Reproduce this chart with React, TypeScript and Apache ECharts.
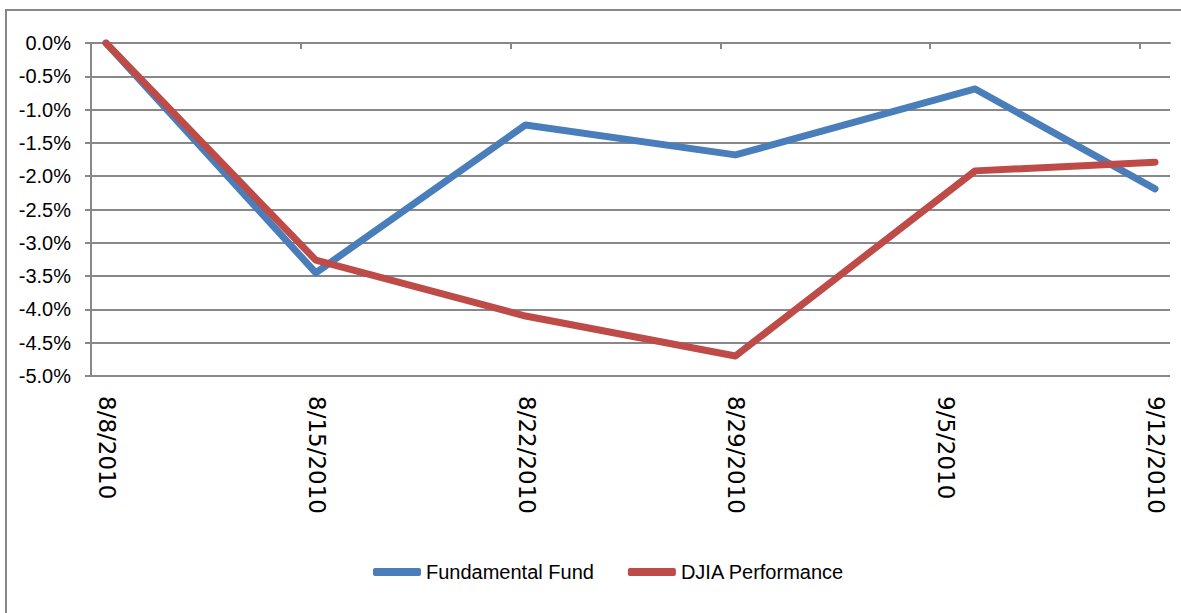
import React, { useEffect, useRef } from "react";
import * as echarts from "echarts";

const startDate = "2010-08-08";
const endDate = "2010-09-13";
const tickDates = ["2010-08-08", "2010-08-15", "2010-08-22", "2010-08-29", "2010-09-05", "2010-09-12"];
const pointDates = ["2010-08-08", "2010-08-15", "2010-08-22", "2010-08-29", "2010-09-06", "2010-09-12"];
const fundValues = [0, -3.45, -1.23, -1.68, -0.69, -2.19];
const djiaValues = [0, -3.26, -4.1, -4.7, -1.92, -1.79];
const seriesNames = ["Fundamental Fund", "DJIA Performance"];
const yMin = -5;
const yMax = 0;
const yInterval = 0.5;

const DAY = 86400000;
const toDay = (s: string) => (Date.parse(s) - Date.parse(startDate)) / DAY;
const dayToLabel = (d: number) => {
  const dt = new Date(Date.parse(startDate) + Math.round(d) * DAY);
  return `${dt.getUTCMonth() + 1}/${dt.getUTCDate()}/${dt.getUTCFullYear()}`;
};

const GRAY = "#888888";
const NARROW = "'Liberation Sans Narrow', 'Liberation Sans', Arial, sans-serif";

export default function App() {
  const ref = useRef<HTMLDivElement>(null);
  useEffect(() => {
    document.body.style.margin = "0";
    const chart = echarts.init(ref.current!, null, { renderer: "svg" });
    const mk = (vals: number[]) => pointDates.map((d, i) => [toDay(d) + 0.5, vals[i]]);
    chart.setOption({
      animation: false,
      backgroundColor: "#ffffff",
      graphic: [
        {
          type: "rect",
          shape: { x: 6, y: 10, width: 1300, height: 700 },
          style: { fill: "none", stroke: GRAY, lineWidth: 2 },
          silent: true,
        },
      ],
      grid: { left: 91, right: 11, top: 43, bottom: 237, containLabel: false },
      xAxis: {
        type: "value",
        min: 0,
        max: toDay(endDate),
        splitLine: { show: false },
        axisLine: { show: true, lineStyle: { color: GRAY, width: 2 } },
        axisTick: {
          show: true,
          length: 6,
          lineStyle: { color: GRAY, width: 2 },
          customValues: tickDates.map(toDay),
        },
        axisLabel: {
          customValues: tickDates.map(toDay),
          rotate: -90,
          margin: 20,
          verticalAlign: "bottom",
          lineHeight: 32,
          fontFamily: "'DejaVu Sans', sans-serif",
          fontSize: 23,
          color: "#000",
          formatter: (v: number) => dayToLabel(v),
        },
      },
      yAxis: {
        type: "value",
        min: yMin,
        max: yMax,
        interval: yInterval,
        axisLine: { show: true, lineStyle: { color: GRAY, width: 2 } },
        axisTick: { show: true, length: 6, lineStyle: { color: GRAY, width: 2 } },
        splitLine: { show: true, lineStyle: { color: GRAY, width: 2 } },
        axisLabel: {
          margin: 20,
          fontFamily: NARROW,
          fontSize: 20,
          color: "#000",
          formatter: (v: number) => v.toFixed(1) + "%",
        },
      },
      legend: {
        left: 368,
        top: 557,
        icon: "roundRect",
        itemWidth: 48,
        itemHeight: 8,
        itemGap: 34,
        textStyle: { fontFamily: NARROW, fontSize: 20, color: "#000" },
        data: seriesNames,
      },
      series: [
        {
          name: seriesNames[0],
          type: "line",
          data: mk(fundValues),
          showSymbol: false,
          symbol: "none",
          lineStyle: { color: "#4A7EBB", width: 7, cap: "round", join: "round" },
          itemStyle: { color: "#4A7EBB" },
        },
        {
          name: seriesNames[1],
          type: "line",
          data: mk(djiaValues),
          showSymbol: false,
          symbol: "none",
          lineStyle: { color: "#BE4B48", width: 7, cap: "round", join: "round" },
          itemStyle: { color: "#BE4B48" },
        },
      ],
    });
    return () => chart.dispose();
  }, []);
  return <div ref={ref} style={{ width: 1181, height: 613 }} />;
}
